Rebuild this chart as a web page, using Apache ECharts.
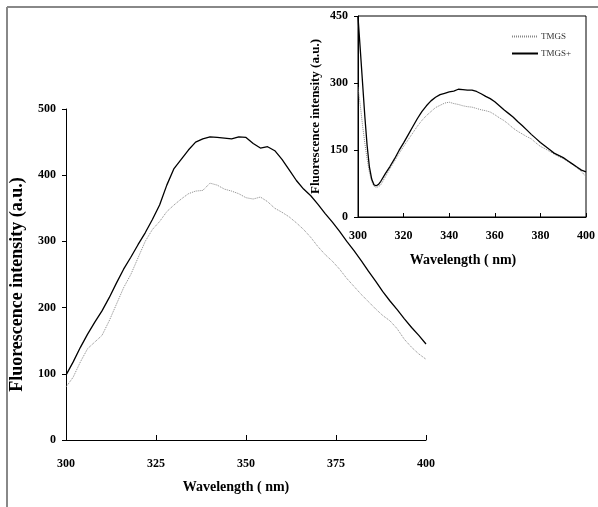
<!DOCTYPE html>
<html>
<head>
<meta charset="utf-8">
<script src="https://cdn.jsdelivr.net/npm/echarts@6/dist/echarts.min.js"></script>
<style>
  html, body { margin: 0; padding: 0; background: #fff; }
  #chart { width: 598px; height: 507px; }
</style>
</head>
<body>
<div id="chart"></div>
<script>
// main spectrum, 2 nm steps
var mainWl = [300, 302, 304, 306, 308, 310, 312, 314, 316, 318, 320, 322, 324, 326, 328, 330, 332, 334, 336, 338,
  340, 342, 344, 346, 348, 350, 352, 354, 356, 358, 360, 362, 364, 366, 368, 370, 372, 374, 376, 378,
  380, 382, 384, 386, 388, 390, 392, 394, 396, 398, 400]
var mainPlus = [98, 118, 140, 160, 178, 195, 215, 237, 258, 276, 295, 313, 333, 355, 385, 410, 424, 438, 450, 455,
  458, 457, 456, 455, 458, 457, 448, 441, 443, 437, 424, 408, 392, 379, 369, 356, 342, 329, 315, 300,
  286, 271, 255, 240, 224, 210, 197, 183, 170, 158, 145]
var mainTmgs = [80, 95, 118, 138, 148, 158, 180, 205, 230, 250, 275, 300, 318, 330, 345, 355, 364, 372, 376, 377,
  388, 385, 379, 376, 372, 366, 364, 367, 360, 350, 344, 337, 328, 318, 306, 292, 280, 270, 258, 244,
  232, 220, 209, 198, 188, 180, 168, 152, 140, 130, 122]

// inset spectrum
var insetWl = [300, 301, 302, 303, 304, 305, 306, 307, 308, 309, 310, 312, 314, 316, 318, 320, 322, 324, 326, 328,
  330, 332, 334, 336, 338, 340, 342, 344, 346, 348, 350, 352, 354, 356, 358, 360, 362, 364, 366, 368,
  370, 372, 374, 376, 378, 380, 382, 384, 386, 388, 390, 392, 394, 396, 398, 400]
var insetPlus = [448, 375, 300, 225, 160, 112, 85, 72, 70, 73, 80, 97, 113, 130, 149, 166, 184, 202, 220, 236,
  249, 260, 268, 274, 277, 280, 282, 286, 285, 284, 284, 281, 276, 270, 265, 258, 249, 240, 232, 224,
  214, 205, 195, 185, 176, 167, 159, 151, 143, 138, 133, 126, 119, 112, 105, 101]
var insetTmgs = [290, 250, 205, 165, 130, 100, 80, 69, 66, 68, 72, 90, 108, 125, 142, 158, 173, 188, 203, 216,
  227, 236, 245, 250, 255, 257, 254, 252, 249, 247, 246, 243, 240, 238, 235, 229, 222, 216, 208, 199,
  192, 186, 180, 175, 166, 158, 153, 147, 141, 135, 131, 124, 118, 110, 102, 90]

var serif = 'Liberation Serif'

function pairs(xs, ys) {
  return xs.map(function(x, i) { return [x, ys[i]] })
}

function lineSeries(name, data, ax, dotted) {
  var col = dotted ? '#888' : '#000'
  return {
    name: name,
    type: 'line',
    xAxisIndex: ax,
    yAxisIndex: ax,
    data: data,
    symbol: 'none',
    silent: true,
    animation: false,
    itemStyle: { color: col },
    lineStyle: dotted
      ? { color: col, width: 1, type: [1, 1] }
      : { color: col, width: 1.3 }
  }
}

var labelStyle = { fontFamily: serif, fontWeight: 'bold', color: '#000' }

var chart = echarts.init(document.getElementById('chart'))
chart.setOption({
  backgroundColor: '#fff',
  animation: false,
  graphic: [
    { type: 'line', shape: { x1: 7, y1: 7, x2: 7, y2: 507 }, style: { stroke: '#888', lineWidth: 2 } },
    { type: 'line', shape: { x1: 7, y1: 7, x2: 598, y2: 7 }, style: { stroke: '#888', lineWidth: 2 } }
  ],
  grid: [
    { left: 65, top: 109, width: 361, height: 331 },
    { left: 358, top: 16, width: 232, height: 201, show: true, borderColor: '#000', borderWidth: 1, backgroundColor: '#fff' }
  ],
  legend: {
    data: ['TMGS', 'TMGS+'],
    orient: 'vertical',
    left: 506,
    top: 27,
    itemWidth: 26,
    itemHeight: 8,
    itemGap: 8,
    itemStyle: { opacity: 0 },
    textStyle: { fontFamily: serif, fontSize: 9, color: '#333', padding: [0, 0, 0, -2] }
  },
  xAxis: [
    {
      gridIndex: 0, type: 'value', min: 300, max: 400, interval: 25,
      name: 'Wavelength ( nm)', nameLocation: 'middle', nameGap: 40,
      nameTextStyle: { fontFamily: serif, fontWeight: 'bold', fontSize: 14, color: '#000', padding: [0, 20, 0, 0] },
      axisLine: { lineStyle: { color: '#000', width: 1 } },
      axisTick: { inside: true, length: 5, lineStyle: { color: '#000' } },
      axisLabel: Object.assign({ fontSize: 12, margin: 18 }, labelStyle),
      splitLine: { show: false }
    },
    {
      gridIndex: 1, type: 'value', min: 300, max: 400, interval: 20,
      name: 'Wavelength ( nm)', nameLocation: 'middle', nameGap: 36,
      nameTextStyle: { fontFamily: serif, fontWeight: 'bold', fontSize: 14, color: '#000', padding: [0, 18, 0, 0] },
      axisLine: { lineStyle: { color: '#000', width: 1 } },
      axisTick: { inside: true, length: 4, lineStyle: { color: '#000' } },
      axisLabel: Object.assign({ fontSize: 12, margin: 13 }, labelStyle),
      splitLine: { show: false }
    }
  ],
  yAxis: [
    {
      gridIndex: 0, type: 'value', min: 0, max: 500, interval: 100,
      name: 'Fluorescence intensity (a.u.)', nameLocation: 'middle', nameGap: 40,
      nameTextStyle: { fontFamily: serif, fontWeight: 'bold', fontSize: 18, color: '#000', padding: [0, 20, 0, 0] },
      axisLine: { show: true, lineStyle: { color: '#000', width: 1 } },
      axisTick: { show: true, length: 4, lineStyle: { color: '#000' } },
      axisLabel: Object.assign({ fontSize: 12, margin: 10 }, labelStyle),
      splitLine: { show: false }
    },
    {
      gridIndex: 1, type: 'value', min: 0, max: 450, interval: 150,
      name: 'Fluorescence intensity (a.u.)', nameLocation: 'middle', nameGap: 36,
      nameTextStyle: { fontFamily: serif, fontWeight: 'bold', fontSize: 13, color: '#000' },
      axisLine: { show: true, lineStyle: { color: '#000', width: 1 } },
      axisTick: { show: true, length: 4, lineStyle: { color: '#000' } },
      axisLabel: Object.assign({ fontSize: 12, margin: 10 }, labelStyle),
      splitLine: { show: false }
    }
  ],
  series: [
    lineSeries('TMGS', pairs(mainWl, mainTmgs), 0, true),
    lineSeries('TMGS+', pairs(mainWl, mainPlus), 0, false),
    lineSeries('TMGS', pairs(insetWl, insetTmgs), 1, true),
    lineSeries('TMGS+', pairs(insetWl, insetPlus), 1, false)
  ]
})
</script>
</body>
</html>
